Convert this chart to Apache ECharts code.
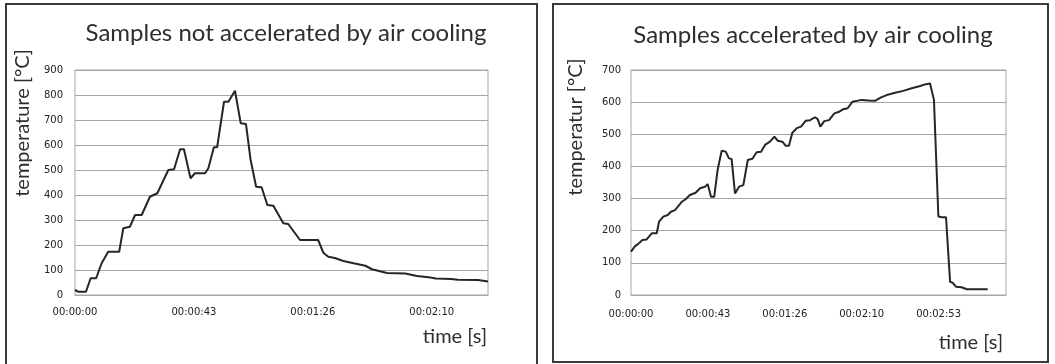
<!DOCTYPE html>
<html>
<head>
<meta charset="utf-8">
<script src="https://cdn.jsdelivr.net/npm/echarts@6/dist/echarts.min.js"></script>
<style>
  html, body { margin: 0; padding: 0; background: #fff; }
  #chart { width: 1055px; height: 364px; }
</style>
</head>
<body>
<div id="chart"></div>
<script>
// left panel: not accelerated (time in s, temperature in °C)
const leftTimes = [0, 1.2, 4.0, 5.7, 7.7, 9.7, 12.1, 16.1, 17.6, 20.0, 21.9, 24.3, 27.3, 30.0, 34.0, 36.1, 38.3, 39.7, 42.1, 43.7,
  47.4, 48.6, 50.6, 51.8, 54.3, 55.9, 58.3, 60.4, 62.3, 64.0, 66.0, 68.0, 70.1, 72.3, 75.9, 77.7, 82.0, 88.6, 90.5, 92.3,
  94.7, 97.8, 101.5, 105.8, 108.2, 113.7, 120.4, 124.6, 129.5, 131.5, 137.0, 139.6, 146.9, 150.5];
const leftTemps = [20, 13, 13, 67, 67, 127, 173, 173, 267, 273, 320, 320, 393, 407, 500, 503, 583, 583, 467, 487,
  487, 507, 591, 591, 773, 773, 817, 687, 684, 540, 433, 431, 360, 357, 287, 284, 220, 220, 169, 153,
  148, 136, 127, 117, 103, 88, 86, 76, 70, 66, 64, 61, 60, 54];

// right panel: accelerated by air cooling
const rightTimes = [0, 2.3, 4.1, 6.4, 8.8, 11.7, 14.5, 15.8, 18.2, 20.7, 22.5, 24.8, 28.6, 30.8, 33.2, 36.4, 38.9, 41.7, 43.2, 45.1,
  46.9, 48.8, 51.1, 53.4, 55.2, 56.7, 58.6, 60.9, 63.3, 65.8, 68.4, 70.8, 73.3, 75.5, 78.3, 80.8, 82.6, 85.3, 87.2, 89.0,
  90.9, 93.4, 95.8, 98.4, 100.9, 103.7, 105.2, 106.7, 108.9, 111.6, 114.6, 117.2, 119.6, 122.1, 124.7, 127.2, 130.0, 133.7, 137.5, 140.9,
  144.1, 148.8, 153.4, 158.2, 162.9, 166.2, 168.5, 169.4, 170.7, 173.2, 175.1, 177.5, 179.8, 181.3, 183.1, 186.3, 189.2, 194.8, 201.0];
const rightTemps = [135, 152, 159, 171, 173, 192, 192, 228, 244, 249, 259, 264, 290, 298, 311, 318, 332, 337, 345, 306,
  306, 389, 449, 446, 425, 423, 316, 337, 342, 420, 424, 444, 446, 467, 477, 493, 480, 477, 464, 464,
  505, 519, 524, 542, 544, 553, 547, 524, 541, 544, 565, 570, 578, 581, 601, 604, 607, 605, 604, 615,
  622, 629, 635, 643, 650, 656, 658, 653, 607, 244, 242, 242, 41, 38, 26, 24, 18, 18, 18];

const titles = ['Samples not accelerated by air cooling', 'Samples accelerated by air cooling'];
const yNames = ['temperature [°C]', 'temperatur [°C]'];
const xName = 'time [s]';

const tickStep = 130 / 3;  // labels 00:00:43, 00:01:26, 00:02:10 ...

function pad(n) { return (n < 10 ? '0' : '') + n; }
function hms(v) {
  const s = Math.floor(v + 1e-6);
  return pad(Math.floor(s / 3600)) + ':' + pad(Math.floor((s % 3600) / 60)) + ':' + pad(s % 60);
}

const gridColor = '#a6a6a6';
const textColor = '#2e2e2e';
const labelFont = { fontFamily: 'DejaVu Sans', fontSize: 10, color: '#222' };

function xAxis(idx, max, margin) {
  return {
    type: 'value', gridIndex: idx, min: 0, max: max, interval: tickStep,
    axisLine: { show: true, lineStyle: { color: gridColor } },
    axisTick: { show: false },
    splitLine: { show: false },
    axisLabel: Object.assign({ formatter: hms, showMaxLabel: false, margin: margin }, labelFont)
  };
}
function yAxis(idx, max, margin) {
  return {
    type: 'value', gridIndex: idx, min: 0, max: max, interval: 100,
    axisLine: { show: false },
    axisTick: { show: false },
    splitLine: { show: true, lineStyle: { color: gridColor, width: 1 } },
    axisLabel: Object.assign({ margin: margin }, labelFont)
  };
}

const chart = echarts.init(document.getElementById('chart'));
chart.setOption({
  animation: false,
  grid: [
    { left: 75, top: 70, width: 413, height: 225, show: true, borderColor: gridColor, borderWidth: 1 },
    { left: 631, top: 70, width: 375, height: 225, show: true, borderColor: gridColor, borderWidth: 1 }
  ],
  xAxis: [xAxis(0, 150.5, 12), xAxis(1, 211.3, 14)],
  yAxis: [yAxis(0, 900, 12), yAxis(1, 700, 10)],
  series: [
    {
      type: 'line', xAxisIndex: 0, yAxisIndex: 0, showSymbol: false,
      lineStyle: { color: '#262626', width: 2 },
      data: leftTimes.map((t, i) => [t, leftTemps[i]])
    },
    {
      type: 'line', xAxisIndex: 1, yAxisIndex: 1, showSymbol: false,
      lineStyle: { color: '#262626', width: 2 },
      data: rightTimes.map((t, i) => [t, rightTemps[i]])
    }
  ],
  graphic: [
    { type: 'rect', shape: { x: 6, y: 4, width: 531, height: 370 }, style: { fill: 'none', stroke: '#3a3a3a', lineWidth: 2 } },
    { type: 'rect', shape: { x: 553, y: 4, width: 495, height: 358 }, style: { fill: 'none', stroke: '#3a3a3a', lineWidth: 2 } },
    { type: 'text', x: 286, y: 33, style: { text: titles[0], font: '24px Lato', fill: textColor, align: 'center', verticalAlign: 'middle' } },
    { type: 'text', x: 813, y: 35, style: { text: titles[1], font: '24px Lato', fill: textColor, align: 'center', verticalAlign: 'middle' } },
    { type: 'text', x: 23, y: 123, rotation: Math.PI / 2, style: { text: yNames[0], font: '20px Lato', fill: textColor, align: 'center', verticalAlign: 'middle' } },
    { type: 'text', x: 576, y: 127, rotation: Math.PI / 2, style: { text: yNames[1], font: '20px Lato', fill: textColor, align: 'center', verticalAlign: 'middle' } },
    { type: 'text', x: 487, y: 337, style: { text: xName, font: '20px Lato', fill: textColor, align: 'right', verticalAlign: 'middle' } },
    { type: 'text', x: 1003, y: 343, style: { text: xName, font: '20px Lato', fill: textColor, align: 'right', verticalAlign: 'middle' } }
  ]
});
</script>
</body>
</html>
